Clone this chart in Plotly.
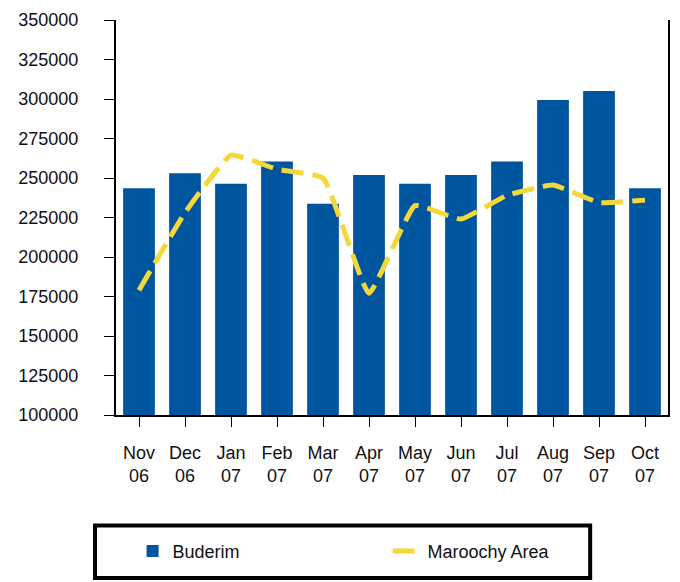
import plotly.graph_objects as go

months = ["Nov<br>06", "Dec<br>06", "Jan<br>07", "Feb<br>07", "Mar<br>07", "Apr<br>07",
          "May<br>07", "Jun<br>07", "Jul<br>07", "Aug<br>07", "Sep<br>07", "Oct<br>07"]
buderim = [243500, 253000, 246300, 260500, 233700, 251900, 246300, 251900, 260500, 299400, 305000, 243500]
maroochy = [179000, 228000, 264500, 255600, 250000, 177000, 232500, 224000, 239000, 245500, 234500, 236000]
y_ticks = [100000, 125000, 150000, 175000, 200000, 225000, 250000, 275000, 300000, 325000, 350000]

x = list(range(len(months)))

fig = go.Figure()
fig.add_trace(go.Bar(x=x, y=buderim, name="Buderim", marker_color="#00559F",
                     marker_line_width=0))
fig.add_trace(go.Scatter(x=x, y=maroochy, name="Maroochy Area", mode="lines",
                         line=dict(color="#F4D83A", width=5, dash="22px,9px",
                                   shape="spline", smoothing=0.35)))

fig.update_layout(
    width=680, height=582,
    margin=dict(l=116, r=10, t=15, b=167),
    paper_bgcolor="white", plot_bgcolor="white",
    bargap=0.31,
    font=dict(family="Liberation Sans, Arial, sans-serif", size=18, color="#111"),
    showlegend=True,
    legend=dict(orientation="h", x=0.03, xanchor="left", y=-0.345, yanchor="middle",
                font=dict(size=18), entrywidth=210, entrywidthmode="pixels",
                bgcolor="rgba(0,0,0,0)", borderwidth=0),
    shapes=[dict(type="rect", xref="paper", yref="paper", x0=-0.038, x1=0.859,
                 y0=-0.4125, y1=-0.28, line=dict(color="black", width=4),
                 fillcolor="rgba(0,0,0,0)", layer="below")],
)
fig.update_xaxes(tickmode="array", tickvals=x, ticktext=months, range=[-0.5, 11.5],
                 showline=True, linecolor="black", linewidth=2, ticks="outside",
                 ticklen=10, tickcolor="black", tickfont=dict(size=18), showgrid=False,
                 ticklabelstandoff=10)
fig.update_yaxes(range=[100000, 350000], tickmode="array", tickvals=y_ticks,
                 ticktext=[str(v) for v in y_ticks], showline=True, mirror=True,
                 linecolor="black", linewidth=2, ticks="outside", ticklen=10,
                 tickcolor="black", showgrid=False, zeroline=False, tickfont=dict(size=18),
                 ticklabelstandoff=22)

fig.write_html("out.html")
